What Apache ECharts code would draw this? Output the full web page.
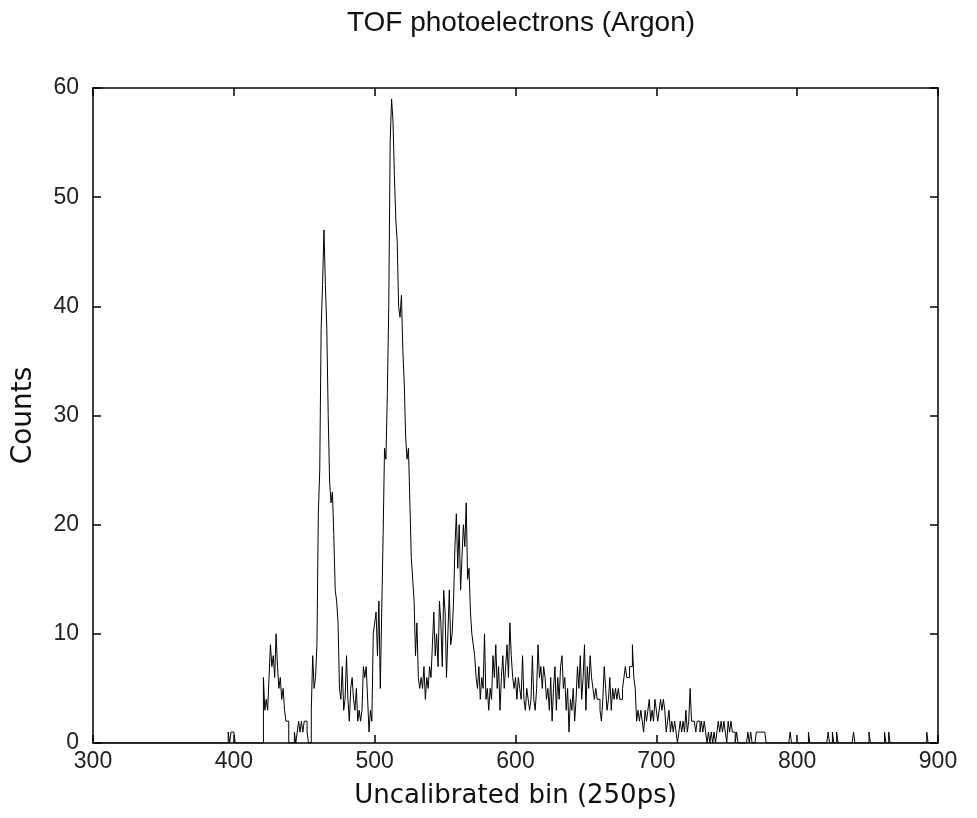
<!DOCTYPE html>
<html>
<head>
<meta charset="utf-8">
<script src="https://cdn.jsdelivr.net/npm/echarts@6/dist/echarts.min.js"></script>
<style>
html,body{margin:0;padding:0;background:#fff;}
#chart{width:977px;height:818px;}
</style>
</head>
<body>
<div id="chart"></div>
<script>
// Histogram bins 300..900 (one count per bin)
var firstBin = 300;
var counts = [
// 300-389
0,0,0,0,0,0,0,0,0,0, 0,0,0,0,0,0,0,0,0,0, 0,0,0,0,0,0,0,0,0,0,
0,0,0,0,0,0,0,0,0,0, 0,0,0,0,0,0,0,0,0,0, 0,0,0,0,0,0,0,0,0,0,
0,0,0,0,0,0,0,0,0,0, 0,0,0,0,0,0,0,0,0,0, 0,0,0,0,0,0,0,0,0,0,
// 390-399
0,0,0,0,0,0,1,0,1,1,
// 400-409
1,0,0,0,0,0,0,0,0,0,
// 410-419
0,0,0,0,0,0,0,0,0,0,
// 420-429
0,6,3,4,3,6,9,7,8,6,
// 430-439
10,7,5,6,4,5,3,2,2,0,
// 440-449
0,0,0,1,0,1,2,1,2,1,
// 450-459
2,2,1,0,0,3,8,5,6,9,
// 460-469
21,25,38,42,47,42,38,30,24,22,
// 470-479
23,19,14,13,11,5,4,7,3,4,
// 480-489
8,4,2,5,6,4,3,5,2,3,
// 490-499
2,3,7,6,7,4,1,3,2,10,
// 500-509
11,12,8,13,5,12,19,27,26,32,
// 510-519
40,55,59,57,52,48,46,40,39,41,
// 520-529
36,33,28,26,27,22,17,15,13,8,
// 530-539
11,6,5,6,5,7,4,6,5,7,
// 540-549
6,9,12,8,10,7,13,11,7,14,
// 550-559
12,6,10,14,9,10,13,18,21,16,
// 560-569
20,14,17,20,18,22,15,16,12,10,
// 570-579
9,8,6,5,7,4,6,5,10,4,
// 580-589
5,3,5,4,8,6,9,5,7,3,
// 590-599
6,8,5,7,9,6,11,8,6,5,
// 600-609
6,4,6,5,4,8,4,3,5,4,
// 610-619
3,4,8,4,3,5,9,6,7,5,
// 620-629
7,6,4,5,3,6,2,5,7,3,
// 630-639
6,4,7,8,5,6,3,5,1,4,
// 640-649
3,5,2,4,7,5,8,4,6,9,
// 650-659
3,7,5,8,6,5,4,5,4,4,
// 660-669
3,2,4,7,5,3,4,6,3,5,
// 670-679
4,5,4,5,4,4,5,6,7,6,
// 680-689
6,7,7,9,6,5,2,3,2,3,
// 690-699
2,1,3,2,3,4,2,3,2,4,
// 700-709
3,2,3,4,3,4,3,1,2,3,
// 710-719
1,2,1,2,1,0,1,2,1,2,
// 720-729
1,3,1,2,5,2,2,2,1,2,
// 730-739
2,1,2,1,2,1,0,1,0,1,
// 740-749
0,1,0,1,2,1,2,1,2,1,
// 750-759
0,2,1,2,1,1,0,1,0,0,
// 760-769
0,0,0,0,0,1,0,1,0,0,
// 770-779
0,1,1,1,1,1,1,1,0,0,
// 780-789
0,0,0,0,0,0,0,0,0,0,
// 790-799
0,0,0,0,0,1,0,0,0,0,
// 800-809
0,0,0,0,0,0,0,0,1,0,
// 810-819
0,0,0,0,0,0,0,0,0,0,
// 820-829
0,0,1,0,0,1,0,0,1,0,
// 830-839
0,0,0,0,0,0,0,0,0,0,
// 840-849
1,0,0,0,0,0,0,0,0,0,
// 850-859
0,1,0,0,0,0,0,0,0,0,
// 860-869
0,0,1,0,0,1,0,0,0,0,
// 870-879
0,0,0,0,0,0,0,0,0,0,
// 880-889
0,0,0,0,0,0,0,0,0,0,
// 890-900
0,0,1,0,0,0,0,0,0,0,0
];
var xTicks = [300, 400, 500, 600, 700, 800, 900];
var yTicks = [0, 10, 20, 30, 40, 50, 60];
var titleText = 'TOF photoelectrons (Argon)';
var xName = 'Uncalibrated bin (250ps)';
var yName = 'Counts';

var seriesData = counts.map(function (c, i) { return [firstBin + i, c]; });

var chart = echarts.init(document.getElementById('chart'), null, {renderer: 'canvas'});
var font = 'Liberation Sans, Arial, Helvetica, sans-serif';
var wideFont = 'DejaVu Sans, Verdana, sans-serif';
function axisCommon() {
  return {
    axisLine: {show: true, onZero: false, lineStyle: {color: '#000', width: 1.5}},
    axisTick: {show: true, inside: true, length: 8, lineStyle: {color: '#000', width: 1.5}},
    splitLine: {show: false}
  };
}
chart.setOption({
  animation: false,
  backgroundColor: '#fff',
  title: {
    text: titleText,
    left: 516, top: 4, textAlign: 'center',
    textStyle: {fontFamily: font, fontSize: 28, fontWeight: 'normal', color: '#111'}
  },
  grid: {left: 93, right: 39, top: 88, bottom: 75},
  xAxis: [
    Object.assign({
      type: 'value', min: xTicks[0], max: xTicks[xTicks.length - 1], interval: 100,
      position: 'bottom',
      name: xName, nameLocation: 'middle', nameGap: 40,
      nameTextStyle: {fontFamily: wideFont, fontSize: 26, color: '#111'},
      axisLabel: {fontFamily: font, fontSize: 23, color: '#222', margin: 7}
    }, axisCommon()),
    Object.assign({
      type: 'value', min: xTicks[0], max: xTicks[xTicks.length - 1], interval: 100,
      position: 'top', axisLabel: {show: false}
    }, axisCommon())
  ],
  yAxis: [
    Object.assign({
      type: 'value', min: yTicks[0], max: yTicks[yTicks.length - 1], interval: 10,
      position: 'left',
      name: yName, nameLocation: 'middle', nameGap: 55, nameRotate: 90,
      nameTextStyle: {fontFamily: wideFont, fontSize: 28, color: '#111'},
      axisLabel: {fontFamily: font, fontSize: 23, color: '#222', margin: 14}
    }, axisCommon()),
    Object.assign({
      type: 'value', min: yTicks[0], max: yTicks[yTicks.length - 1], interval: 10,
      position: 'right', axisLabel: {show: false}
    }, axisCommon())
  ],
  series: [{
    type: 'line',
    step: 'end',
    data: seriesData,
    xAxisIndex: 0, yAxisIndex: 0,
    showSymbol: false,
    lineStyle: {color: '#000', width: 1},
    clip: true
  }]
});
</script>
</body>
</html>
